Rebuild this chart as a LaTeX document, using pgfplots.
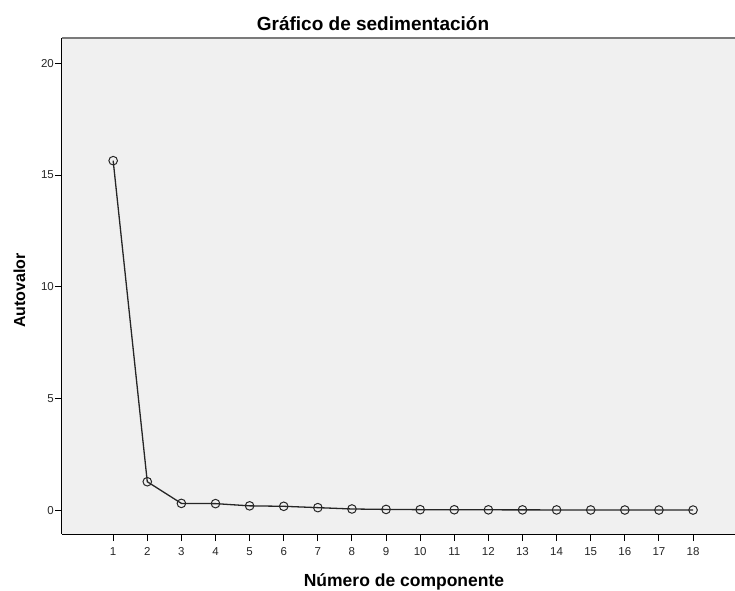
\documentclass[border=0pt]{standalone}
\usepackage{fontspec}
\setmainfont{Liberation Sans}
\usepackage{pgfplots}
\pgfplotsset{compat=1.18}
\definecolor{bgc}{HTML}{F0F0F0}
\definecolor{topc}{HTML}{7A7A7A}
\definecolor{linec}{HTML}{262626}
\begin{document}
\begin{tikzpicture}
\useasboundingbox (0,0) rectangle (735pt,590pt);
\begin{axis}[
  at={(62pt,56pt)}, anchor=south west,
  scale only axis, width=673pt, height=496pt,
  xmin=-0.5, xmax=19.23, ymin=-1.07, ymax=21.13,
  axis x line*=bottom, axis y line*=left,
  axis line style={-, black, line width=1pt},
  axis background/.style={fill=bgc},
  xtick={1,...,18}, ytick={0,5,10,15,20},
  tick align=outside, major tick length=7pt,
  tick style={black, line width=0.9pt},
  /pgf/number format/assume math mode=true,
  tick label style={font=\fontsize{11.5}{13}\selectfont, text=black!85},
  xticklabel style={yshift=-3pt},
  yticklabel style={inner sep=1pt},
  clip=false,
]
\addplot[linec, line width=1.3pt, mark=o, mark size=4.3pt, mark options={line width=1pt, draw=linec}]
coordinates {(1,15.64) (2,1.27) (3,0.30) (4,0.29) (5,0.19) (6,0.17) (7,0.11) (8,0.05) (9,0.03) (10,0.02) (11,0.015) (12,0.012) (13,0.01) (14,0.008) (15,0.006) (16,0.004) (17,0.003) (18,0.002)};
\draw[topc, line width=2pt] (rel axis cs:0,1) -- (rel axis cs:1,1);
\end{axis}
\node[font=\bfseries\fontsize{19}{21}\selectfont, anchor=base, inner sep=0pt] at (373pt,559pt) {Gráfico de sedimentación};
\node[font=\bfseries\fontsize{17.5}{19}\selectfont, anchor=base, inner sep=0pt] at (404pt,4pt) {Número de componente};
\node[font=\bfseries\fontsize{16}{18}\selectfont, anchor=base, rotate=90, inner sep=0pt] at (25pt,299.5pt) {Autovalor};
\end{tikzpicture}
\end{document}
